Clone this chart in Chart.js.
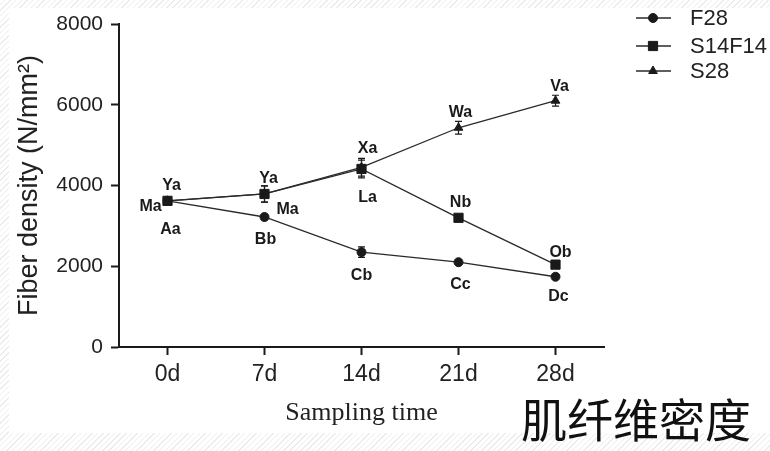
<!DOCTYPE html>
<html>
<head>
<meta charset="utf-8">
<script src="https://cdn.jsdelivr.net/npm/chart.js@4.4.0/dist/chart.umd.min.js"></script>
<style>
html,body{margin:0;padding:0;}
body{width:770px;height:451px;overflow:hidden;position:relative;
  background:repeating-linear-gradient(135deg,#fff 0px,#fff 3px,#ececec 3px,#ececec 4px);}
#paper{position:absolute;left:9px;top:8px;width:761px;height:425px;background:#fff;}
#wrap{position:absolute;left:0;top:0;width:770px;height:451px;}
</style>
</head>
<body>
<div id="paper"></div>
<div id="wrap"><canvas id="chartCanvas"></canvas></div>
<script>
// data
const days = ["0d", "7d", "14d", "21d", "28d"];
const f28 = [3620, 3220, 2350, 2100, 1740];
const s14f14 = [3620, 3790, 4410, 3200, 2040];
const s28 = [3620, 3790, 4450, 5430, 6100];
const f28Err = [40, 40, 130, 50, 40];
const s14f14Err = [40, 200, 220, 60, 40];
const s28Err = [40, 200, 220, 160, 135];
const f28Letters = ["Aa", "Bb", "Cb", "Cc", "Dc"];
const s14f14Letters = ["Ma", "Ma", "La", "Nb", "Ob"];
const s28Letters = ["Ya", "Ya", "Xa", "Wa", "Va"];
const yTicks = [0, 2000, 4000, 6000, 8000];

// where each letter sits relative to its point
const f28Pos = [[3,29],[1,23],[0,23],[2,22],[3,20]];
const s14Pos = [[-17,6],[23,16],[6,29],[2,-15],[5,-12]];
const s28Pos = [[4,-15],[4,-15],[6,-19],[2,-15],[4,-14]];

const ink = "#1a1a1a";

function makeSet(label, data, style, radius, err, letters, pos){
    return {
        label: label,
        data: data,
        err: err,
        letters: letters,
        letterPos: pos,
        borderColor: "#2a2a2a",
        borderWidth: 1.3,
        pointStyle: style,
        pointRadius: radius,
        pointBackgroundColor: ink,
        pointBorderColor: ink,
        pointBorderWidth: 1,
        tension: 0,
        fill: false
    };
}

const errorBars = {
    id: "errorBars",
    afterDatasetsDraw(chart){
        const ctx = chart.ctx;
        const y = chart.scales.y;
        ctx.save();
        ctx.strokeStyle = ink;
        ctx.lineWidth = 1.2;
        chart.data.datasets.forEach((ds, di) => {
            const meta = chart.getDatasetMeta(di);
            meta.data.forEach((pt, i) => {
                const top = y.getPixelForValue(ds.data[i] + ds.err[i]);
                const bot = y.getPixelForValue(ds.data[i] - ds.err[i]);
                ctx.beginPath();
                ctx.moveTo(pt.x, top); ctx.lineTo(pt.x, bot);
                ctx.moveTo(pt.x - 3.5, top); ctx.lineTo(pt.x + 3.5, top);
                ctx.moveTo(pt.x - 3.5, bot); ctx.lineTo(pt.x + 3.5, bot);
                ctx.stroke();
            });
        });
        ctx.restore();
    }
};

const letterLabels = {
    id: "letterLabels",
    afterDatasetsDraw(chart){
        const ctx = chart.ctx;
        ctx.save();
        ctx.font = "bold 16px 'Liberation Sans', Arial, sans-serif";
        ctx.fillStyle = ink;
        ctx.textAlign = "center";
        ctx.textBaseline = "middle";
        chart.data.datasets.forEach((ds, di) => {
            const meta = chart.getDatasetMeta(di);
            meta.data.forEach((pt, i) => {
                const p = ds.letterPos[i];
                ctx.fillText(ds.letters[i], pt.x + p[0], pt.y + p[1]);
            });
        });
        ctx.restore();
    }
};

const sideLegend = {
    id: "sideLegend",
    afterDraw(chart){
        const ctx = chart.ctx;
        const rows = [18, 46, 71];
        ctx.save();
        chart.data.datasets.forEach((ds, di) => {
            const yy = rows[di];
            ctx.strokeStyle = "#2a2a2a";
            ctx.lineWidth = 1.3;
            ctx.beginPath();
            ctx.moveTo(636, yy); ctx.lineTo(671, yy);
            ctx.stroke();
            ctx.fillStyle = ink;
            ctx.strokeStyle = ink;
            ctx.lineWidth = 1;
            Chart.helpers.drawPoint(ctx, {pointStyle: ds.pointStyle, radius: ds.pointRadius, rotation: 0, borderWidth: 1}, 653, yy);
            ctx.fillStyle = "#222";
            ctx.font = "22px 'Liberation Sans', Arial, sans-serif";
            ctx.textAlign = "left";
            ctx.textBaseline = "middle";
            ctx.fillText(ds.label, 690, yy + 1);
        });
        ctx.font = "46px 'Noto Sans CJK SC', sans-serif";
        ctx.fillStyle = "#111";
        ctx.textAlign = "left";
        ctx.textBaseline = "middle";
        ctx.fillText("肌纤维密度", 521, 420);
        ctx.restore();
    }
};

const ctx = document.getElementById("chartCanvas").getContext("2d");
new Chart(ctx, {
    type: "line",
    data: {
        labels: days,
        datasets: [
            makeSet("F28", f28, "circle", 4.5, f28Err, f28Letters, f28Pos),
            makeSet("S14F14", s14f14, "rect", 6.5, s14f14Err, s14f14Letters, s14Pos),
            makeSet("S28", s28, "triangle", 5, s28Err, s28Letters, s28Pos)
        ]
    },
    options: {
        responsive: true,
        maintainAspectRatio: false,
        animation: false,
        layout: { padding: { top: 24, right: 166, left: 0, bottom: 0 } },
        plugins: { legend: { display: false }, tooltip: { enabled: false } },
        scales: {
            x: {
                type: "category",
                offset: true,
                afterFit: s => { s.height = 104; },
                grid: { display: true, drawOnChartArea: false, drawTicks: true, tickLength: 8, tickWidth: 2, tickColor: ink },
                border: { display: true, color: ink, width: 2 },
                ticks: { color: "#222", padding: 6, font: { family: "'Liberation Sans', Arial, sans-serif", size: 23 } },
                title: { display: true, text: "Sampling time", color: "#222",
                    padding: { top: 0, bottom: 22 },
                    font: { family: "'Liberation Serif', 'Times New Roman', serif", size: 26 } }
            },
            y: {
                min: 0,
                max: 8000,
                afterFit: s => { s.width = 119; },
                afterBuildTicks: s => { s.ticks = yTicks.map(v => ({ value: v })); },
                grid: { display: true, drawOnChartArea: false, drawTicks: true, tickLength: 8, tickWidth: 2, tickColor: ink },
                border: { display: true, color: ink, width: 2 },
                ticks: { color: "#222", padding: 8, callback: v => String(v),
                    font: { family: "'Liberation Sans', Arial, sans-serif", size: 21 } },
                title: { display: true, text: "Fiber density (N/mm²)", color: "#222",
                    padding: { top: 13, bottom: 0 },
                    font: { family: "'Liberation Sans', Arial, sans-serif", size: 27 } }
            }
        }
    },
    plugins: [errorBars, letterLabels, sideLegend]
});
</script>
</body>
</html>
